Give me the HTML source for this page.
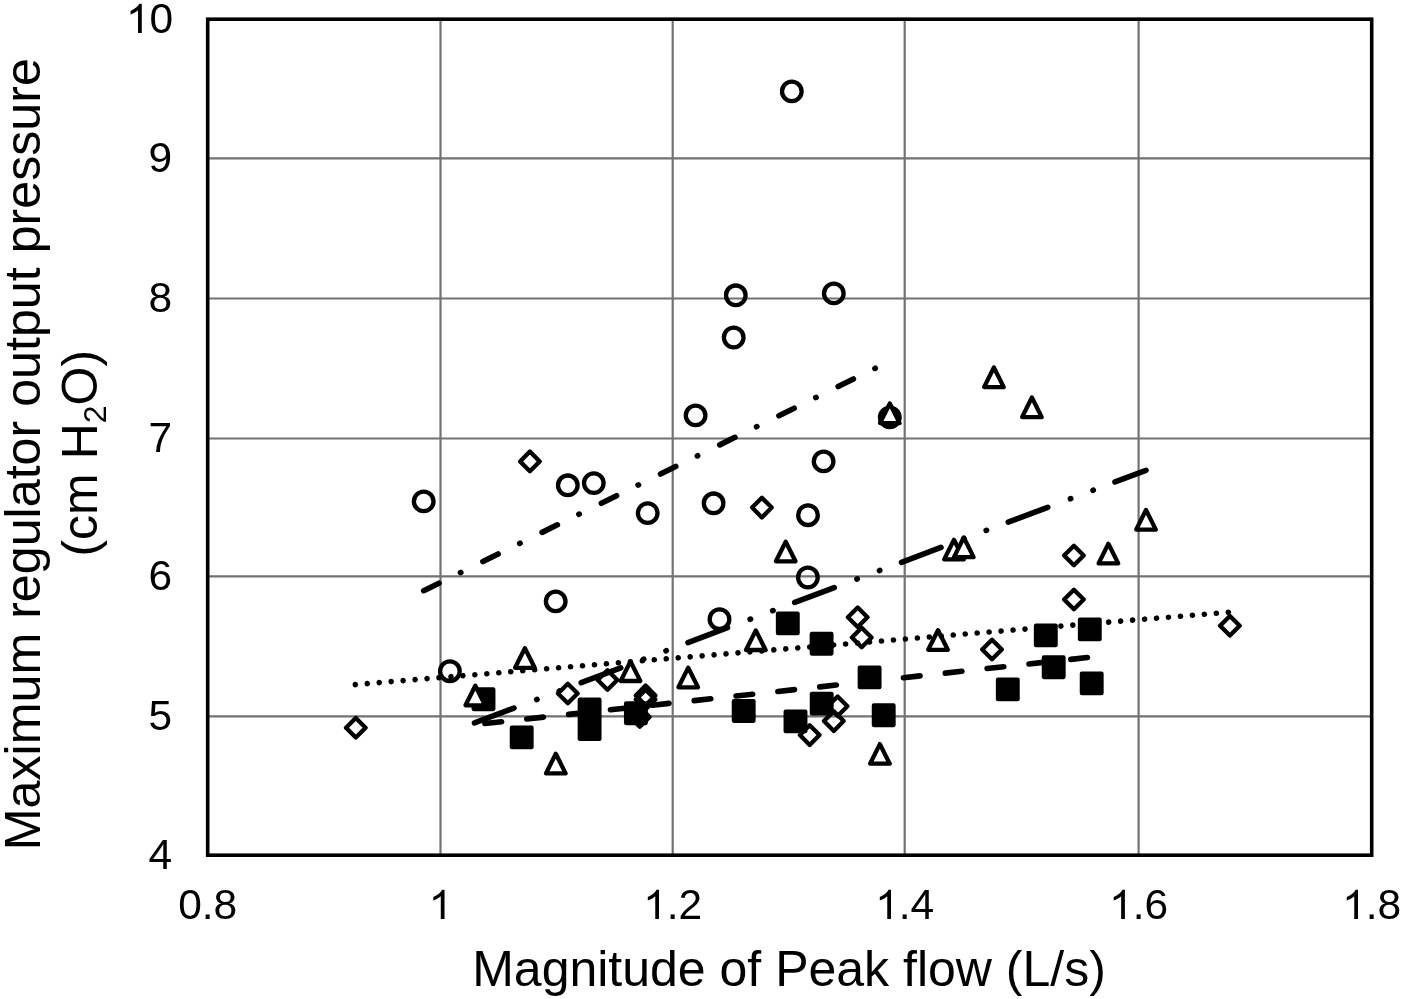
<!DOCTYPE html><html><head><meta charset="utf-8"><style>html,body{margin:0;padding:0;background:#fff;}svg{display:block;filter:grayscale(1);}text{font-family:"Liberation Sans",sans-serif;fill:#000;}</style></head><body>
<svg width="1401" height="999" viewBox="0 0 1401 999">
<rect x="0" y="0" width="1401" height="999" fill="#fff"/>
<path d="M440.50 19.20V855.20M672.70 19.20V855.20M904.70 19.20V855.20M1138.60 19.20V855.20M207.70 716.40H1371.70M207.70 576.40H1371.70M207.70 438.50H1371.70M207.70 298.50H1371.70M207.70 158.40H1371.70" stroke="#727272" stroke-width="2.2" fill="none"/>
<rect x="207.7" y="19.2" width="1164.00" height="836.00" fill="none" stroke="#000" stroke-width="3.6"/>
<g fill="none" stroke="#000" stroke-width="4.3"><circle cx="791.8" cy="91.4" r="9.8"/><circle cx="735.8" cy="295.3" r="9.8"/><circle cx="833.8" cy="293.4" r="9.8"/><circle cx="733.7" cy="337.5" r="9.8"/><circle cx="695.6" cy="415.4" r="9.8"/><circle cx="889.8" cy="417.4" r="9.8"/><circle cx="423.7" cy="501.4" r="9.8"/><circle cx="567.8" cy="485.3" r="9.8"/><circle cx="593.8" cy="483.1" r="9.8"/><circle cx="647.7" cy="513.1" r="9.8"/><circle cx="713.6" cy="503.3" r="9.8"/><circle cx="823.6" cy="461.4" r="9.8"/><circle cx="808" cy="515.2" r="9.8"/><circle cx="807.9" cy="577.5" r="9.8"/><circle cx="555.7" cy="601.4" r="9.8"/><circle cx="719.5" cy="619.2" r="9.8"/><circle cx="449.9" cy="671.2" r="9.8"/></g>
<path d="M529.9 451.6L539.7 461.4L529.9 471.2L520.1 461.4ZM761.9 497.8L771.7 507.6L761.9 517.4L752.1 507.6ZM1073.9 545.7L1083.7 555.5L1073.9 565.3L1064.1 555.5ZM1073.9 589.7L1083.7 599.5L1073.9 609.3L1064.1 599.5ZM857.7 607.5L867.5 617.3L857.7 627.1L847.9 617.3ZM861.7 627.7L871.5 637.5L861.7 647.3L851.9 637.5ZM992.0 639.7L1001.8 649.5L992.0 659.3L982.2 649.5ZM1229.9 616.0L1239.7 625.8L1229.9 635.6L1220.1 625.8ZM567.8 683.7L577.6 693.5L567.8 703.3L558.0 693.5ZM607.5 670.2L617.3 680.0L607.5 689.8L597.7 680.0ZM645.6 685.6L655.4 695.4L645.6 705.2L635.8 695.4ZM645.6 689.7L655.4 699.5L645.6 709.3L635.8 699.5ZM639.8 707.2L649.6 717.0L639.8 726.8L630.0 717.0ZM355.8 717.9L365.6 727.7L355.8 737.5L346.0 727.7ZM809.7 725.3L819.5 735.1L809.7 744.9L799.9 735.1ZM833.8 711.3L843.6 721.1L833.8 730.9L824.0 721.1ZM837.6 696.5L847.4 706.3L837.6 716.1L827.8 706.3Z" fill="none" stroke="#000" stroke-width="4.3" stroke-linejoin="round"/>
<path d="M778.0 613.6H797.6V633.2H778.0ZM811.8 633.9H831.4V653.5H811.8ZM1036.0 625.6H1055.6V645.2H1036.0ZM1080.0 619.6H1099.6V639.2H1080.0ZM1043.9 657.5H1063.5V677.1H1043.9ZM859.8 667.6H879.4V687.2H859.8ZM998.0 679.6H1017.6V699.2H998.0ZM1081.9 673.6H1101.5V693.2H1081.9ZM473.7 689.4H493.3V709.0H473.7ZM579.8 699.6H599.4V719.2H579.8ZM579.8 719.3H599.4V738.9H579.8ZM626.1 703.4H645.7V723.0H626.1ZM733.9 701.2H753.5V720.8H733.9ZM511.9 727.6H531.5V747.2H511.9ZM785.7 711.6H805.3V731.2H785.7ZM811.9 693.8H831.5V713.4H811.9ZM873.9 705.5H893.5V725.1H873.9Z" fill="#000" stroke="#000" stroke-width="4.3" stroke-linejoin="round"/>
<g fill="#fff" stroke="#000" stroke-width="4.3" stroke-linejoin="round"><path d="M993.9 367.5L1003.7 387.1L984.1 387.1Z"/><path d="M1031.9 397.5L1041.7 417.1L1022.1 417.1Z"/><path d="M889.8 403.5L899.6 423.1L880.0 423.1Z"/><path d="M1146.0 510.0L1155.8 529.6L1136.2 529.6Z"/><path d="M785.7 541.7L795.5 561.3L775.9 561.3Z"/><path d="M954.0 539.8L963.8 559.4L944.2 559.4Z"/><path d="M963.8 537.5L973.6 557.1L954.0 557.1Z"/><path d="M1108.4 543.8L1118.2 563.4L1098.6 563.4Z"/><path d="M755.8 630.4L765.6 650.0L746.0 650.0Z"/><path d="M938.0 630.2L947.8 649.8L928.2 649.8Z"/><path d="M524.9 648.2L534.7 667.8L515.1 667.8Z"/><path d="M630.5 661.4L640.3 681.0L620.7 681.0Z"/><path d="M688.2 667.7L698.0 687.3L678.4 687.3Z"/><path d="M475.3 685.7L485.1 705.3L465.5 705.3Z"/><path d="M555.8 753.8L565.6 773.4L546.0 773.4Z"/><path d="M879.9 744.1L889.7 763.7L870.1 763.7Z"/></g>
<path d="M423.7 590.7L889.8 361.1" stroke="#000" stroke-width="5.6" fill="none" stroke-linecap="round" stroke-dasharray="17 24 0.4 24.6" stroke-dashoffset="0"/>
<path d="M474.5 722.9L1146 470.3" stroke="#000" stroke-width="5.6" fill="none" stroke-linecap="round" stroke-dasharray="42.2 24.2 0.4 23.7 0.4 23.15" stroke-dashoffset="0"/>
<path d="M355.3 684.6L1229.9 612.1" stroke="#000" stroke-width="5.6" fill="none" stroke-linecap="round" stroke-dasharray="0.01 11.99" stroke-dashoffset="0"/>
<path d="M483.5 723.7L1091.7 657.1" stroke="#000" stroke-width="5.6" fill="none" stroke-linecap="round" stroke-dasharray="16.8 25.3" stroke-dashoffset="40.7"/>
<g transform="translate(148.57 868.90) scale(1 1.02)"><text x="0.00" y="0" font-size="42.5">4</text></g>
<g transform="translate(148.57 730.10) scale(1 1.02)"><text x="0.00" y="0" font-size="42.5">5</text></g>
<g transform="translate(148.57 590.10) scale(1 1.02)"><text x="0.00" y="0" font-size="42.5">6</text></g>
<g transform="translate(148.57 452.20) scale(1 1.02)"><text x="0.00" y="0" font-size="42.5">7</text></g>
<g transform="translate(148.57 312.20) scale(1 1.02)"><text x="0.00" y="0" font-size="42.5">8</text></g>
<g transform="translate(148.57 172.10) scale(1 1.02)"><text x="0.00" y="0" font-size="42.5">9</text></g>
<g transform="translate(125.94 32.90) scale(1 1.02)"><path d="M763 0H583V1147Q518 1085 412.5 1023T223 930V1104Q374 1175 487 1276T647 1472H763V0Z" transform="translate(0.00 0) scale(0.020752 -0.019430)"/><text x="23.63" y="0" font-size="42.5">0</text></g>
<g transform="translate(178.16 919.00) scale(1 1.02)"><text x="0.00" y="0" font-size="42.5">0.8</text></g>
<g transform="translate(428.69 919.00) scale(1 1.02)"><path d="M763 0H583V1147Q518 1085 412.5 1023T223 930V1104Q374 1175 487 1276T647 1472H763V0Z" transform="translate(0.00 0) scale(0.020752 -0.019430)"/></g>
<g transform="translate(643.16 919.00) scale(1 1.02)"><path d="M763 0H583V1147Q518 1085 412.5 1023T223 930V1104Q374 1175 487 1276T647 1472H763V0Z" transform="translate(0.00 0) scale(0.020752 -0.019430)"/><text x="23.63" y="0" font-size="42.5">.2</text></g>
<g transform="translate(875.16 919.00) scale(1 1.02)"><path d="M763 0H583V1147Q518 1085 412.5 1023T223 930V1104Q374 1175 487 1276T647 1472H763V0Z" transform="translate(0.00 0) scale(0.020752 -0.019430)"/><text x="23.63" y="0" font-size="42.5">.4</text></g>
<g transform="translate(1109.06 919.00) scale(1 1.02)"><path d="M763 0H583V1147Q518 1085 412.5 1023T223 930V1104Q374 1175 487 1276T647 1472H763V0Z" transform="translate(0.00 0) scale(0.020752 -0.019430)"/><text x="23.63" y="0" font-size="42.5">.6</text></g>
<g transform="translate(1342.16 919.00) scale(1 1.02)"><path d="M763 0H583V1147Q518 1085 412.5 1023T223 930V1104Q374 1175 487 1276T647 1472H763V0Z" transform="translate(0.00 0) scale(0.020752 -0.019430)"/><text x="23.63" y="0" font-size="42.5">.8</text></g>
<text x="789" y="985.5" font-size="50" text-anchor="middle">Magnitude of Peak flow (L/s)</text>
<g transform="translate(40 454.2) rotate(-90)"><text x="0" y="0" font-size="50.2" text-anchor="middle">Maximum regulator output pressure</text></g>
<g transform="translate(96.8 453.2) rotate(-90)"><text x="0" y="0" font-size="50" text-anchor="middle">(cm H<tspan font-size="32" dy="9">2</tspan><tspan dy="-9">O)</tspan></text></g>
</svg></body></html>
